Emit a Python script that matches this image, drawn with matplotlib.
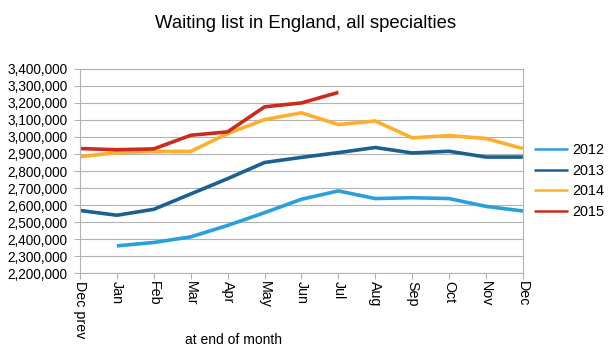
import matplotlib
matplotlib.use("Agg")
import matplotlib.pyplot as plt
from matplotlib.ticker import FuncFormatter

plt.rcParams['font.family'] = ['Liberation Sans', 'DejaVu Sans']

months = ['Dec prev', 'Jan', 'Feb', 'Mar', 'Apr', 'May', 'Jun',
          'Jul', 'Aug', 'Sep', 'Oct', 'Nov', 'Dec']

# waiting list at end of month (None = no data)
wl_2012 = [None, 2360000, 2380000, 2413000, 2480000, 2555000, 2634000,
           2683000, 2638000, 2643000, 2638000, 2592000, 2565000]
wl_2013 = [2568000, 2540000, 2575000, 2665000, 2755000, 2850000, 2880000,
           2908000, 2938000, 2906000, 2916000, 2882000, 2882000]
wl_2014 = [2884000, 2908000, 2915000, 2915000, 3020000, 3102000, 3142000,
           3073000, 3094000, 2995000, 3008000, 2991000, 2932000]
wl_2015 = [2932000, 2925000, 2930000, 3010000, 3030000, 3177000, 3200000,
           3262000]

series = [('2012', wl_2012, '#2aa0da'),
          ('2013', wl_2013, '#1c5f91'),
          ('2014', wl_2014, '#fdae2e'),
          ('2015', wl_2015, '#cb2a1e')]

fig = plt.figure(figsize=(6.13, 3.57), dpi=100)
ax = fig.add_axes([0.1305, 0.235, 0.7225, 0.572])

for name, vals, col in series:
    xs = [i for i, v in enumerate(vals) if v is not None]
    ys = [v for v in vals if v is not None]
    ax.plot(xs, ys, color=col, lw=2.6, label=name, solid_capstyle='butt')

ax.set_xlim(0, 12)
ax.set_ylim(2200000, 3400000)
ax.set_yticks(range(2200000, 3400001, 100000))
ax.yaxis.set_major_formatter(FuncFormatter(lambda v, p: f'{int(v):,}'))
ax.set_xticks(range(len(months)))
ax.set_xticklabels(months, rotation=-90, fontsize=10.3, va='top')
ax.tick_params(axis='y', labelsize=9.8, length=4, color='#b3b3b3', pad=5)
ax.tick_params(axis='x', length=4, color='#b3b3b3', pad=2)
ax.grid(axis='y', color='#b3b3b3', lw=0.8)
ax.set_axisbelow(True)
for s in ax.spines.values():
    s.set_color('#b3b3b3')
    s.set_linewidth(0.8)

fig.text(234 / 613, 1 - 340 / 357, 'at end of month', ha='center',
         va='center', fontsize=10)
fig.text(0.498, 0.935, 'Waiting list in England, all specialties',
         ha='center', va='center', fontsize=13.3)

fig.legend(loc='center left', bbox_to_anchor=(0.871, 0.493), frameon=False,
           fontsize=10.4, handlelength=2.35, handletextpad=0.28,
           labelspacing=0.45, borderpad=0, borderaxespad=0)
for line in fig.legends[0].get_lines():
    line.set_linewidth(1.8)

fig.savefig('out.png', dpi=100)
